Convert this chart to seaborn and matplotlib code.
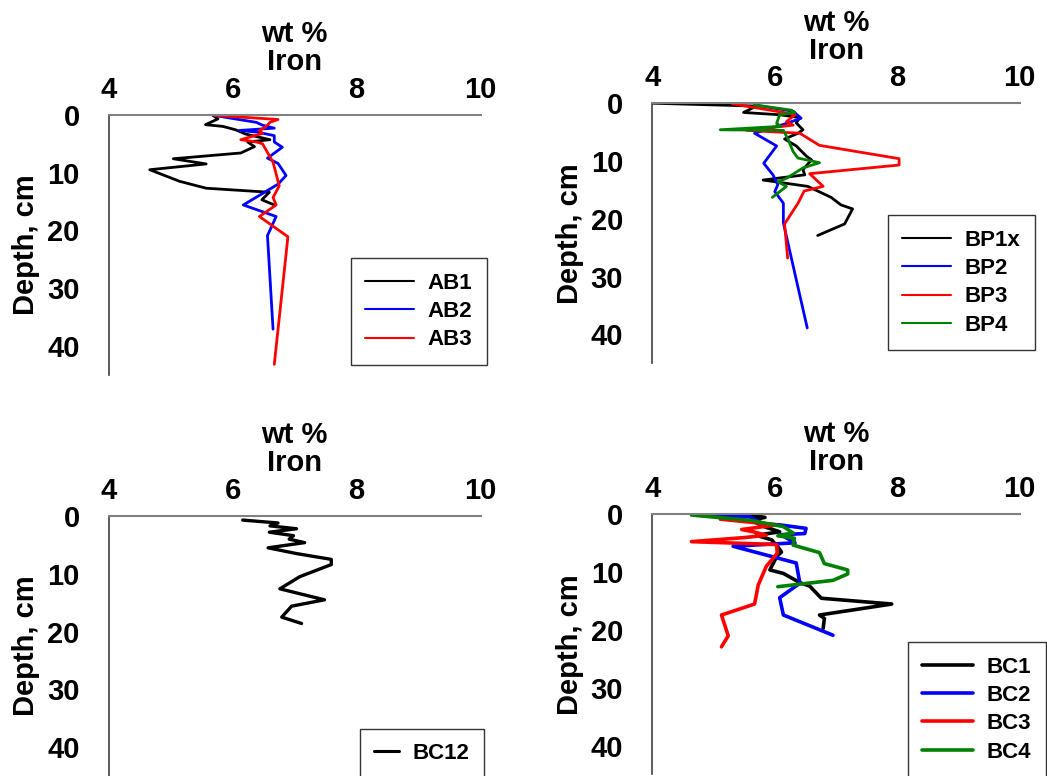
import numpy as np
import pandas as pd
import matplotlib
matplotlib.use("Agg")
import matplotlib.pyplot as plt
import seaborn as sns

# ---------------- data ----------------
# Panel 1 (AB cores)
ab1_fe = [5.68, 5.76, 5.56, 5.84, 6.05, 6.20, 6.60, 6.24, 6.35, 6.13, 5.04, 5.57, 4.66, 5.14, 5.57, 6.59, 6.47, 6.67]
ab1_d  = [0.1, 0.7, 1.7, 2.0, 2.6, 3.3, 4.3, 4.7, 5.5, 6.6, 7.6, 8.5, 9.5, 11.5, 12.7, 13.4, 14.7, 15.6]
ab2_fe = [5.70, 6.38, 6.48, 6.67, 6.11, 6.40, 6.67, 6.67, 6.80, 6.56, 6.73, 6.86, 6.73, 6.56, 6.17, 6.70, 6.56, 6.65]
ab2_d  = [0.1, 1.3, 1.8, 2.3, 2.7, 3.0, 3.6, 4.7, 5.6, 7.5, 8.4, 10.5, 12.0, 13.1, 15.6, 17.6, 20.9, 37.1]
ab3_fe = [5.70, 6.73, 6.60, 6.53, 6.43, 6.48, 6.13, 6.38, 6.48, 6.65, 6.75, 6.65, 6.70, 6.43, 6.89, 6.67]
ab3_d  = [0.1, 0.8, 1.3, 2.1, 2.7, 3.2, 4.3, 4.7, 5.0, 8.2, 12.3, 14.3, 15.6, 17.6, 21.1, 43.2]

# Panel 2 (BP cores)
bp1_fe = [4.00, 5.70, 5.49, 6.08, 6.41, 6.35, 6.46, 6.38, 6.16, 6.35, 6.52, 6.60, 6.46, 6.49, 5.81, 6.54, 6.92, 7.08, 7.27, 7.14, 6.70]
bp1_d  = [0.0, 0.5, 1.6, 2.0, 2.5, 3.4, 4.6, 5.2, 6.2, 7.4, 9.2, 9.8, 11.5, 12.4, 13.3, 14.4, 16.3, 17.6, 18.3, 20.9, 22.9]
bp2_fe = [5.67, 6.30, 6.43, 6.19, 5.67, 6.03, 5.82, 5.97, 6.05, 6.00, 6.14, 6.14, 6.53]
bp2_d  = [0.3, 1.4, 2.6, 3.5, 5.2, 7.4, 10.4, 12.4, 14.1, 15.3, 17.3, 20.7, 38.9]
bp3_fe = [5.31, 6.14, 6.33, 6.19, 6.30, 5.54, 6.41, 6.73, 8.03, 8.03, 6.57, 6.79, 6.48, 6.38, 6.16, 6.21]
bp3_d  = [0.1, 1.6, 2.0, 3.2, 3.8, 4.7, 5.2, 7.3, 9.6, 10.7, 12.2, 14.4, 15.2, 17.3, 20.9, 26.8]
bp4_fe = [5.67, 6.27, 6.33, 6.08, 6.03, 6.10, 5.11, 6.14, 6.22, 6.30, 6.38, 6.73, 6.46, 6.19, 6.05, 6.19, 5.96]
bp4_d  = [0.3, 1.2, 1.6, 2.0, 3.5, 4.0, 4.6, 4.7, 6.3, 8.4, 9.5, 10.3, 11.2, 13.0, 13.6, 14.4, 16.3]

# Panel 3 (BC12)
bc12_fe = [6.16, 6.73, 6.60, 7.03, 6.59, 6.98, 6.91, 7.16, 6.57, 7.03, 7.59, 7.59, 7.08, 6.76, 7.48, 6.95, 6.79, 7.11]
bc12_d  = [0.7, 1.2, 1.7, 2.2, 2.8, 3.4, 4.0, 4.6, 5.5, 6.5, 7.5, 8.4, 10.5, 12.6, 14.5, 15.6, 17.5, 18.6]

# Panel 4 (BC cores)
bc1_fe = [5.59, 5.84, 5.62, 5.80, 6.08, 5.70, 5.95, 6.05, 6.11, 6.03, 5.92, 6.14, 6.41, 6.57, 6.76, 7.91, 6.73, 6.81, 6.79]
bc1_d  = [0.1, 0.5, 1.0, 2.0, 3.0, 3.6, 4.4, 5.6, 6.5, 7.3, 9.6, 10.2, 11.8, 12.4, 14.5, 15.5, 17.4, 18.0, 19.7]
bc2_fe = [4.81, 5.59, 5.81, 6.08, 6.51, 6.49, 6.10, 6.33, 5.32, 6.35, 6.41, 6.08, 6.14, 6.95]
bc2_d  = [0.1, 0.4, 1.6, 1.8, 2.4, 3.3, 3.5, 4.9, 5.5, 8.4, 11.9, 14.4, 17.4, 20.9]
bc3_fe = [5.11, 6.03, 5.46, 5.65, 5.86, 5.50, 4.64, 6.03, 6.04, 5.86, 5.73, 5.67, 5.13, 5.24, 5.13]
bc3_d  = [0.8, 1.8, 2.6, 3.0, 3.6, 4.0, 4.7, 5.2, 6.7, 9.0, 12.2, 15.5, 17.4, 21.0, 22.9]
bc4_fe = [4.64, 5.59, 6.14, 6.30, 6.05, 6.32, 6.30, 6.73, 6.81, 7.19, 7.19, 6.95, 6.05]
bc4_d  = [0.1, 1.0, 2.1, 3.2, 3.7, 4.1, 5.3, 6.6, 8.5, 9.6, 10.3, 11.4, 12.5]

x_ticks = [4, 6, 8, 10]
y_ticks = [0, 10, 20, 30, 40]

COLORS = ["black", "blue", "red", "green"]


def make_df(series):
    rows = []
    for name, fe, d in series:
        for i, (a, b) in enumerate(zip(fe, d)):
            rows.append({"core": name, "fe": a, "depth": b, "idx": i})
    return pd.DataFrame(rows)


panels = [
    ([0.104, 0.517, 0.355, 0.335],
     [("AB1", ab1_fe, ab1_d), ("AB2", ab2_fe, ab2_d), ("AB3", ab3_fe, ab3_d)],
     (1.016, 0.038), 2.0, 1.5, 2.2),
    ([0.623, 0.532, 0.351, 0.335],
     [("BP1x", bp1_fe, bp1_d), ("BP2", bp2_fe, bp2_d), ("BP3", bp3_fe, bp3_d), ("BP4", bp4_fe, bp4_d)],
     (1.041, 0.05), 2.0, 1.5, 2.2),
    ([0.104, 0.0, 0.355, 0.335],
     [("BC12", bc12_fe, bc12_d)],
     (1.008, -0.01), 2.4, 2.2, 1.1),
    ([0.623, 0.002, 0.351, 0.335],
     [("BC1", bc1_fe, bc1_d), ("BC2", bc2_fe, bc2_d), ("BC3", bc3_fe, bc3_d), ("BC4", bc4_fe, bc4_d)],
     (1.07, -0.01), 2.6, 2.6, 2.3),
]

sns.set_style("white")
plt.rcParams["font.family"] = ["Liberation Sans", "DejaVu Sans"]
plt.rcParams["font.weight"] = "bold"
for k in ["text.color", "axes.labelcolor", "xtick.labelcolor", "ytick.labelcolor"]:
    plt.rcParams[k] = "black"

fig = plt.figure(figsize=(10.47, 7.76), dpi=100)

for rect, series, anchor, lw, leg_lw, hlen in panels:
    ax = fig.add_axes(rect)
    df = make_df(series)
    names = [s[0] for s in series]
    pal = dict(zip(names, COLORS[:len(names)]))
    sns.lineplot(data=df, x="fe", y="depth", hue="core", hue_order=names,
                 palette=pal, sort=False, estimator=None, units="core",
                 linewidth=lw, ax=ax, legend=True)
    ax.set_xlim(4, 10)
    ax.set_ylim(45, 0)
    ax.set_xticks(x_ticks)
    ax.set_yticks(y_ticks)
    ax.xaxis.tick_top()
    ax.xaxis.set_label_position("top")
    ax.set_xlabel("wt %\nIron", fontsize=21, fontweight="bold", labelpad=4,
                  linespacing=1.0, color="black")
    ax.set_ylabel("Depth, cm", fontsize=21, fontweight="bold", labelpad=5,
                  color="black")
    ax.tick_params(axis="y", labelsize=21, length=4, width=1, color="#404040",
                   direction="out", pad=17, labelcolor="black")
    ax.tick_params(axis="x", labelsize=21, pad=8, length=0, labelcolor="black")
    for lab in ax.get_xticklabels() + ax.get_yticklabels():
        lab.set_fontweight("bold")
    for s in ["right", "bottom"]:
        ax.spines[s].set_visible(False)
    ax.spines["top"].set_color("#808080")
    ax.spines["top"].set_linewidth(1.5)
    ax.spines["left"].set_color("#404040")
    ax.spines["left"].set_linewidth(1.2)
    leg = ax.legend(loc="lower right", bbox_to_anchor=anchor, frameon=True,
                    fancybox=False, edgecolor="black", title=None,
                    prop={"size": 16, "weight": "bold"}, handlelength=hlen,
                    borderpad=0.65, labelspacing=0.33, handletextpad=0.6,
                    borderaxespad=0.0)
    leg.get_frame().set_linewidth(1.0)
    for t in leg.get_texts():
        t.set_color("black")
    for h in leg.get_lines():
        h.set_linewidth(leg_lw)

fig.savefig("out.png", dpi=100)
